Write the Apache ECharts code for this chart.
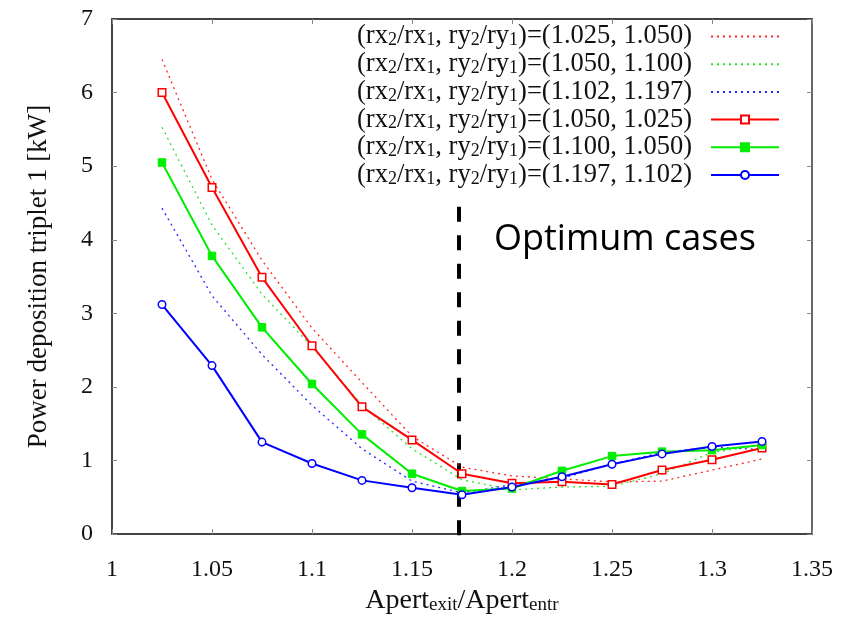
<!DOCTYPE html>
<html>
<head>
<meta charset="utf-8">
<script src="https://cdn.jsdelivr.net/npm/echarts@6/dist/echarts.min.js"></script>
<style>html,body{margin:0;padding:0;background:#fff;}#c{width:866px;height:620px;}</style>
</head>
<body>
<div id="c"></div>
<script>
const xValues = [1.025,1.05,1.075,1.1,1.125,1.15,1.175,1.2,1.225,1.25,1.275,1.3,1.325];
const redDotted   = [6.45,4.82,3.72,2.80,2.06,1.33,0.91,0.79,0.75,0.71,0.72,0.87,1.02];
const greenDotted = [5.53,4.20,3.26,2.55,1.75,1.16,0.74,0.60,0.64,0.65,0.82,1.11,1.21];
const blueDotted  = [4.43,3.24,2.44,1.75,1.16,0.72,0.56,0.67,0.76,0.95,1.11,1.18,1.15];
const redSolid    = [6.00,4.71,3.49,2.56,1.73,1.28,0.82,0.69,0.71,0.675,0.87,1.01,1.17];
const greenSolid  = [5.05,3.78,2.81,2.04,1.355,0.82,0.585,0.62,0.86,1.06,1.12,1.14,1.21];
const blueSolid   = [3.12,2.29,1.25,0.96,0.73,0.63,0.535,0.64,0.78,0.95,1.09,1.19,1.26];
const seriesNames = [
  '(rx2/rx1, ry2/ry1)=(1.025, 1.050)',
  '(rx2/rx1, ry2/ry1)=(1.050, 1.100)',
  '(rx2/rx1, ry2/ry1)=(1.102, 1.197)',
  '(rx2/rx1, ry2/ry1)=(1.050, 1.025)',
  '(rx2/rx1, ry2/ry1)=(1.100, 1.050)',
  '(rx2/rx1, ry2/ry1)=(1.197, 1.102)'
];
const optimumX = [1.1735, 1.1735];
const optimumY = [4.45, -0.1];
const annotationText = 'Optimum cases';
const xTitle = 'Apert{sub|exit}/Apert{sub|entr}';
const yTitle = 'Power deposition triplet 1 [kW]';

const serif = 'Liberation Serif';
const zip = (xs, ys) => xs.map((x, i) => [x, ys[i]]);

function dotted(name, data, color) {
  return {
    name, type: 'line', data: zip(xValues, data), symbol: 'none', z: 3,
    color: color,
    lineStyle: { color: color, width: 1.3, type: [2, 4], opacity: 0.85 },
    emphasis: { disabled: true }
  };
}
function solid(name, data, color, symbol, filled) {
  return {
    name, type: 'line', data: zip(xValues, data), symbol: symbol, symbolSize: 7.5, z: 4,
    showAllSymbol: true,
    color: color,
    lineStyle: { color: color, width: 2 },
    itemStyle: filled ? { color: color, borderColor: color, borderWidth: 1 } : { color: '#ffffff', borderColor: color, borderWidth: 1.5 },
    emphasis: { disabled: true }
  };
}

const chart = echarts.init(document.getElementById('c'));
chart.setOption({
  animation: false,
  backgroundColor: '#fff',
  grid: { left: 112, right: 54, top: 19, bottom: 83 },
  xAxis: [{
    type: 'value', min: 1, max: 1.35, interval: 0.05,
    name: xTitle, nameLocation: 'middle', nameGap: 50,
    nameTextStyle: { fontFamily: serif, fontSize: 28, color: '#111',
      rich: { sub: { fontFamily: serif, fontSize: 19, color: '#111', verticalAlign: 'bottom', lineHeight: 8 } } },
    axisLine: { show: true, onZero: false, lineStyle: { color: '#444', width: 2 } },
    axisTick: { show: true, inside: true, length: 5, lineStyle: { color: '#888' } },
    axisLabel: { fontFamily: serif, fontSize: 24, color: '#111', margin: 24 },
    splitLine: { show: false }
  }, {
    type: 'value', min: 1, max: 1.35, interval: 0.05, position: 'top',
    axisLine: { show: true, onZero: false, lineStyle: { color: '#444', width: 2 } },
    axisTick: { show: true, inside: true, length: 5, lineStyle: { color: '#888' } },
    axisLabel: { show: false }, splitLine: { show: false }
  }],
  yAxis: [{
    type: 'value', min: 0, max: 7, interval: 1,
    name: yTitle, nameLocation: 'middle', nameGap: 60,
    nameTextStyle: { fontFamily: serif, fontSize: 27, color: '#111' },
    axisLine: { show: true, onZero: false, lineStyle: { color: '#444', width: 2 } },
    axisTick: { show: true, inside: true, length: 5, lineStyle: { color: '#888' } },
    axisLabel: { fontFamily: serif, fontSize: 24, color: '#111', margin: 19 },
    splitLine: { show: false }
  }, {
    type: 'value', min: 0, max: 7, interval: 1, position: 'right',
    axisLine: { show: true, onZero: false, lineStyle: { color: '#666', width: 2 } },
    axisTick: { show: true, inside: true, length: 5, lineStyle: { color: '#888' } },
    axisLabel: { show: false }, splitLine: { show: false }
  }],
  legend: {
    orient: 'vertical', right: 86, top: 23, align: 'right', padding: 0,
    itemWidth: 68, itemHeight: 10, itemGap: 0.7,
    data: seriesNames.map((n, i) => i < 3 ? { name: n, itemStyle: { opacity: 0 } } : { name: n }),
    formatter: n => n.replace(/(r[xy])([12])/g, '$1{sub|$2}'),
    textStyle: { fontFamily: serif, fontSize: 26.5, color: '#111', lineHeight: 26, padding: [0, 14, 0, 0],
      rich: { sub: { fontFamily: serif, fontSize: 18, color: '#111', verticalAlign: 'bottom', lineHeight: 8 } } }
  },
  graphic: [{
    type: 'text', x: 494, y: 240, z: 10,
    style: { text: annotationText, font: '36px "Open Sans"', fill: '#000', verticalAlign: 'middle' }
  }],
  series: [
    {
      name: 'optimum', type: 'line', data: zip(optimumX, optimumY), symbol: 'none', z: 2, clip: false,
      lineStyle: { color: '#000', width: 4, type: [15, 13.5] }, emphasis: { disabled: true }
    },
    dotted(seriesNames[0], redDotted, '#ff0000'),
    dotted(seriesNames[1], greenDotted, '#00e000'),
    dotted(seriesNames[2], blueDotted, '#0000ff'),
    solid(seriesNames[3], redSolid, '#ff0000', 'rect', false),
    solid(seriesNames[4], greenSolid, '#00ee00', 'rect', true),
    solid(seriesNames[5], blueSolid, '#0000ff', 'circle', false)
  ]
});
</script>
</body>
</html>
